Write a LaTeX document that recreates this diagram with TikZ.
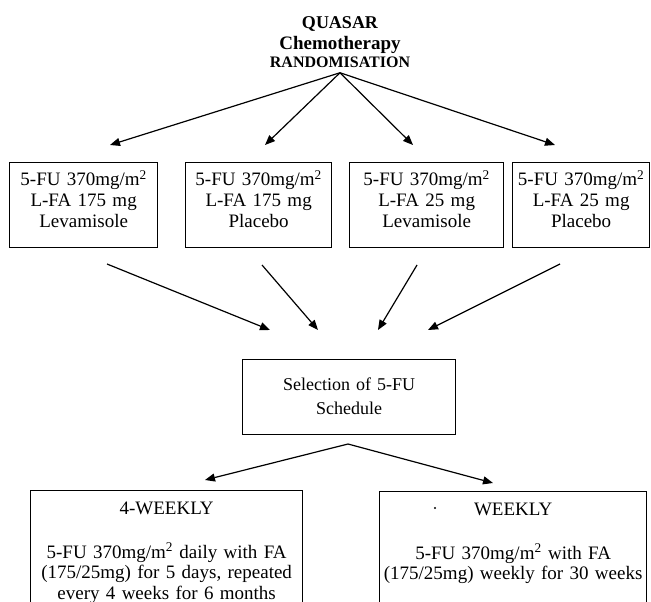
\documentclass[tikz,border=0pt]{standalone}
\usepackage{fontspec}
\setmainfont{Liberation Serif}
\usepackage{tikz}
\usetikzlibrary{positioning, calc}
\usetikzlibrary{arrows.meta}

\begin{document}
\begin{tikzpicture}[x=1pt,y=-1pt,line width=1.2pt,>={Triangle[length=10pt,width=8pt]}]
 	\tikzstyle{box-node}=[draw=black!100,line width=1.3pt,anchor=north west,inner xsep=0pt,inner ysep=6pt,align=center]
 	\tikzstyle{arm-node}=[box-node,font=\fontsize{19}{21}\selectfont,text height=17.5pt,text depth=55.5pt]
 	\tikzstyle{sched-node}=[box-node,font=\fontsize{19}{20.5}\selectfont,text height=17.5pt,text depth=130pt]
 	\useasboundingbox (0,0) rectangle (651,602);
 	\clip (0,0) rectangle (651,602);

 	% title
 	\node[anchor=base,align=center,text width=200pt,inner ysep=4pt,font=\fontsize{18}{21}\selectfont\bfseries] (title) at (340,29)
 		{QUASAR\\ {\fontsize{19}{21}\selectfont Chemotherapy}\\[-3pt] {\fontsize{16}{18}\selectfont RANDOMISATION}};

 	% randomised arms
 	\node[arm-node,text width=148pt] 	(arm1)	at (9,161.5)	{5-FU 370mg/m\textsuperscript{2}\\ L-FA 175 mg\\ Levamisole};
 	\node[arm-node,text width=146pt] 	(arm2)	at (185,161.5)	{5-FU 370mg/m\textsuperscript{2}\\ L-FA 175 mg\\ Placebo};
 	\node[arm-node,text width=154pt] 	(arm3)	at (349,161.5)	{5-FU 370mg/m\textsuperscript{2}\\ L-FA 25 mg\\ Levamisole};
 	\node[arm-node,text width=137pt] 	(arm4)	at (512,161.5)	{5-FU 370mg/m\textsuperscript{2}\\ L-FA 25 mg\\ Placebo};

 	% selection
 	\node[box-node,text width=213pt,font=\fontsize{18}{24}\selectfont,text height=24.5pt,text depth=38.5pt] (select) at (242,359)
 		{Selection of 5-FU\\ Schedule};

 	% schedules
 	\node[sched-node,text width=272pt] 	(weekly4)	at (30,490)
 		{4-WEEKLY\\[23.5pt] 5-FU 370mg/m\textsuperscript{2} daily with FA\\ (175/25mg) for 5 days, repeated\\ every 4 weeks for 6 months};
 	\node[sched-node,text width=267pt] 	(weekly)	at (379,491)
 		{WEEKLY\\[23.5pt] 5-FU 370mg/m\textsuperscript{2} with FA\\ (175/25mg) weekly for 30 weeks};
 	\node[circle,fill=black,inner sep=0.8pt] (speck) at (435,508) {};

 	% arrow ends
 	\coordinate (a1) at (110,145);
 	\coordinate (a2) at (265,145);
 	\coordinate (a3) at (413,145);
 	\coordinate (a4) at (555,145);
 	\coordinate (b1) at (107,264);
 	\coordinate (b2) at (262,265);
 	\coordinate (b3) at (417,265);
 	\coordinate (b4) at (560,264);
 	\coordinate (c1) at (270,330);
 	\coordinate (c2) at (318,330);
 	\coordinate (c3) at (378,330);
 	\coordinate (c4) at (428,330);
 	\coordinate (split) at (348,444);
 	\coordinate (e1) at (205,480);
 	\coordinate (e2) at (493,483);

 	\draw[->] (title.south) -- (a1);
 	\draw[->] (title.south) -- (a2);
 	\draw[->] (title.south) -- (a3);
 	\draw[->] (title.south) -- (a4);
 	\draw[->] (b1) -- (c1);
 	\draw[->] (b2) -- (c2);
 	\draw[->] (b3) -- (c3);
 	\draw[->] (b4) -- (c4);
 	\draw[->] (split) -- (e1);
 	\draw[->] (split) -- (e2);
\end{tikzpicture}
\end{document}
